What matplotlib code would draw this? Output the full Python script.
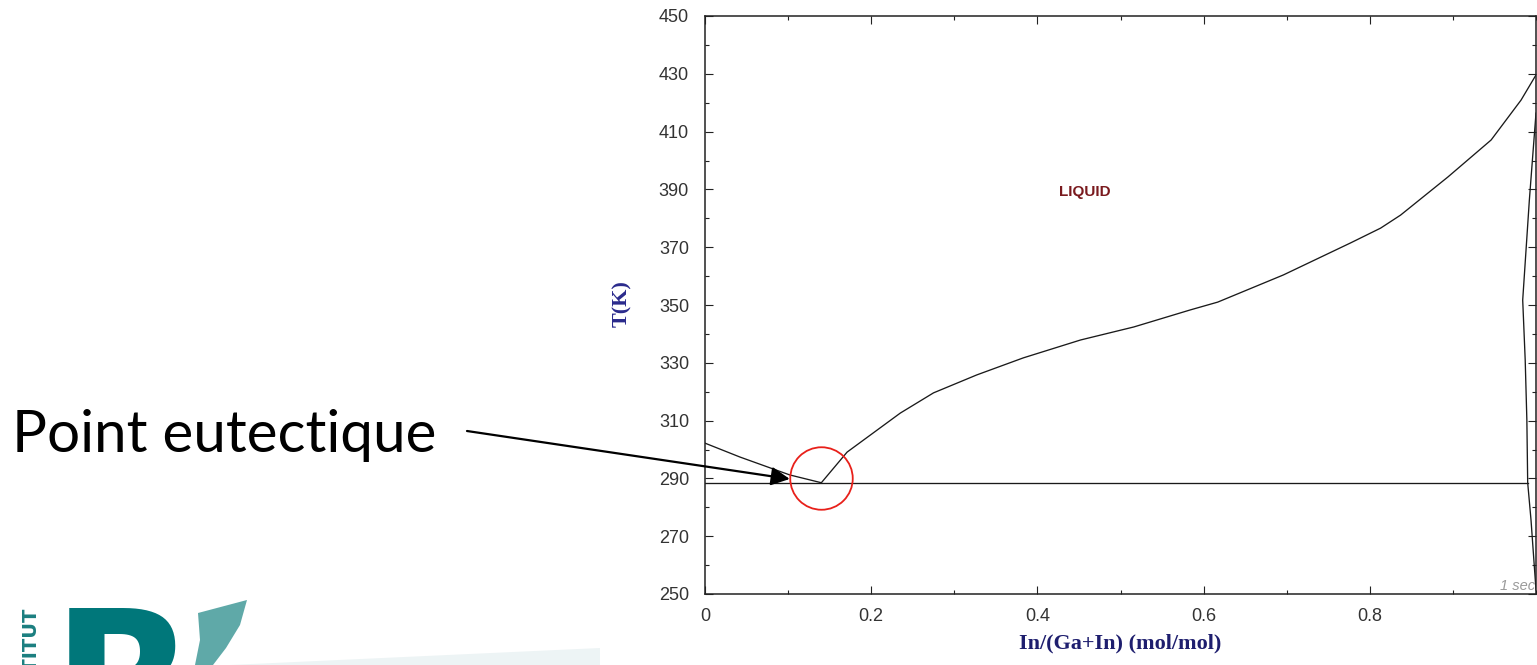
import matplotlib
matplotlib.use("Agg")
import matplotlib.pyplot as plt
from matplotlib.patches import Polygon
from matplotlib.ticker import MultipleLocator, FixedLocator, FixedFormatter

# ---- data ----
ga_liquidus_x = [0.0, 0.042, 0.102, 0.140]
ga_liquidus_T = [302.2, 297.4, 291.2, 288.5]

in_liquidus_x = [0.140, 0.171, 0.235, 0.275, 0.327, 0.383, 0.452, 0.516, 0.584,
                 0.617, 0.696, 0.777, 0.813, 0.837, 0.894, 0.946, 0.982, 1.0]
in_liquidus_T = [288.5, 299.1, 312.6, 319.6, 325.8, 331.7, 337.9, 342.4, 348.3,
                 351.0, 360.4, 371.5, 376.6, 381.1, 394.3, 407.1, 420.9, 429.6]

in_solidus_x = [1.0, 0.992, 0.984, 0.987, 0.989, 0.990, 0.994, 1.0]
in_solidus_T = [416.4, 386.3, 351.7, 331.0, 310.2, 288.5, 275.6, 251.4]

eutectic_x = [0.0, 0.990]
eutectic_T = [288.5, 288.5]
eutectic_point = (0.139, 290.0)
arrow_tip = (0.102, 289.8)

xtick_vals = [0, 0.2, 0.4, 0.6, 0.8]
xtick_labels = ["0", "0.2", "0.4", "0.6", "0.8"]
ytick_vals = list(range(250, 451, 20))
ytick_labels = [str(v) for v in ytick_vals]

W, H = 1537, 665
fig = plt.figure(figsize=(W / 100, H / 100), dpi=100)
fig.patch.set_facecolor("white")

ax = fig.add_axes([705 / W, (H - 594) / H, 831 / W, 578 / H])
ax.set_xlim(0, 1)
ax.set_ylim(250, 450)

line_kw = dict(color="#1a1a1a", lw=0.95)
ax.plot(ga_liquidus_x, ga_liquidus_T, **line_kw)
ax.plot(in_liquidus_x, in_liquidus_T, **line_kw)
ax.plot(in_solidus_x, in_solidus_T, **line_kw)
ax.plot(eutectic_x, eutectic_T, **line_kw)

# ticks
ax.xaxis.set_major_locator(FixedLocator(xtick_vals))
ax.xaxis.set_major_formatter(FixedFormatter(xtick_labels))
ax.xaxis.set_minor_locator(MultipleLocator(0.1))
ax.yaxis.set_major_locator(FixedLocator(ytick_vals))
ax.yaxis.set_major_formatter(FixedFormatter(ytick_labels))
ax.yaxis.set_minor_locator(MultipleLocator(10))
ax.tick_params(which="both", direction="in", top=True, right=True,
               color="#222222", width=0.8)
ax.tick_params(which="major", length=6)
ax.tick_params(which="minor", length=3)
ax.tick_params(axis="y", which="major", pad=11.5)
ax.tick_params(axis="x", which="major", pad=10)
for lab in ax.get_xticklabels() + ax.get_yticklabels():
    lab.set_fontfamily("Liberation Sans")
    lab.set_fontsize(13)
    lab.set_color("#333333")
for sp in ax.spines.values():
    sp.set_linewidth(1.1)
    sp.set_color("#222222")

# axis labels
fig.text(1120 / W, (H - 648) / H, "In/(Ga+In) (mol/mol)", ha="center",
         va="baseline", fontfamily="Liberation Serif", fontweight="bold",
         fontsize=16, color="#1e1e6e")
fig.text(622 / W, (H - 304) / H, "T(K)", ha="center", va="center", rotation=90,
         fontfamily="Liberation Serif", fontweight="bold", fontsize=16,
         color="#2a2a8c")

ax.text(0.457, 389.1, "LIQUID", ha="center", va="center",
        fontfamily="Liberation Sans", fontweight="bold", fontsize=11,
        color="#7a1a1e")
fig.text(1500 / W, (H - 590) / H, "1 sec", ha="left", va="baseline",
         fontfamily="Liberation Sans", fontstyle="italic", fontsize=10.5,
         color="#9a9a9a")

# eutectic annotation
ax.plot([eutectic_point[0]], [eutectic_point[1]], "o", ms=45, mfc="none",
        mec="#e8201a", mew=1.3, clip_on=False)
ax.annotate("", xy=arrow_tip, xycoords="data",
            xytext=(467, H - 431), textcoords="figure pixels",
            arrowprops=dict(arrowstyle="-|>", color="black", lw=1.6,
                            mutation_scale=28, shrinkA=0, shrinkB=0),
            annotation_clip=False)
fig.text(12 / W, (H - 452) / H, "Point eutectique", ha="left", va="baseline",
         fontfamily="Lato", fontsize=42, color="black")

# logo fragments (bottom left)
fig.text(30 / W, (H - 607) / H, "INSTITUT", rotation=90, ha="center", va="top",
         fontfamily="DejaVu Sans", fontweight="bold", fontsize=14,
         color="#1b7f80")
fig.text(52 / W, (H - 603) / H, "R", ha="left", va="top",
         fontfamily="DejaVu Sans", fontweight="bold", fontsize=135,
         color="#00777a")
sw = [(198, 613), (247, 600), (240, 625), (226, 648), (213, 665), (195, 665),
      (200, 640)]
fig.patches.append(Polygon([(x / W, (H - y) / H) for x, y in sw], closed=True,
                           transform=fig.transFigure, facecolor="#5fa9a8",
                           edgecolor="none"))
band = [(230, 665), (600, 648), (600, 665)]
fig.patches.append(Polygon([(x / W, (H - y) / H) for x, y in band], closed=True,
                           transform=fig.transFigure, facecolor="#edf4f5",
                           edgecolor="none"))

fig.savefig("out.png", dpi=100, facecolor="white")
